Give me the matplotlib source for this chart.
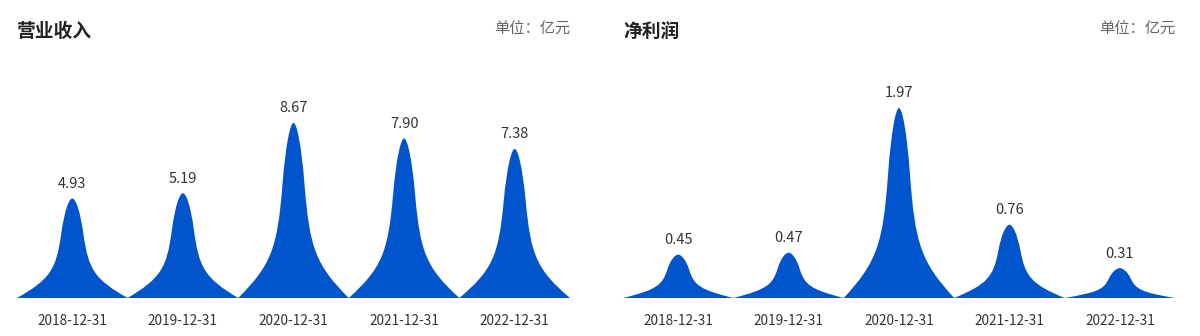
import numpy as np
import matplotlib
matplotlib.use('Agg')
import matplotlib.pyplot as plt
from matplotlib.path import Path
from matplotlib.patches import PathPatch

plt.rcParams['font.family'] = ['Noto Sans CJK SC', 'DejaVu Sans']

dates = ['2018-12-31', '2019-12-31', '2020-12-31', '2021-12-31', '2022-12-31']
revenue = [4.93, 5.19, 8.67, 7.90, 7.38]
profit = [0.45, 0.47, 1.97, 0.76, 0.31]

BLUE = '#0055cc'

# peak outline in a 10x10 box (left half, y up), mirrored for the right half
LEFT = [(0, 0), (3.0, 1.89), (3.55, 2.86), (4.0, 6.46),
        (4.3, 8.86), (4.72, 10), (5, 10)]


def peak(ax, i, v):
    left = [(i - 0.5 + x / 10, v * y / 10) for x, y in LEFT]
    right = [(i + 0.5 - x / 10, v * y / 10) for x, y in LEFT[::-1]][1:]
    verts = left + right + [(i - 0.5, 0)]
    codes = ([Path.MOVETO] + [Path.CURVE4] * 6 + [Path.CURVE4] * 6
             + [Path.CLOSEPOLY])
    ax.add_patch(PathPatch(Path(verts, codes), fc=BLUE, ec='none'))


def panel(rect, title, values, top):
    ax = fig.add_axes(rect)
    for i, v in enumerate(values):
        peak(ax, i, v)
        ax.annotate(f'{v:.2f}', (i, v), xytext=(0, 10.5), textcoords='offset points',
                    ha='center', va='center', fontsize=10.5, color='#333333')
    ax.set_xlim(-0.5, len(values) - 0.5)
    ax.set_ylim(0, top)
    ax.set_xticks(range(len(values)))
    ax.set_xticklabels(dates, fontsize=9.8, color='#333333')
    ax.tick_params(axis='x', length=0, pad=11.5)
    ax.set_yticks([])
    for s in ax.spines.values():
        s.set_visible(False)
    ax.text(0, 1 + 65 / 202, title, transform=ax.transAxes, fontsize=13.5,
            fontweight='bold', color='#222222', va='center', ha='left')
    ax.text(1, 1 + 67 / 202, '单位：亿元', transform=ax.transAxes, fontsize=11,
            color='#666666', va='center', ha='right')
    return ax


fig = plt.figure(figsize=(12, 3.36), dpi=100)
panel([17 / 1200, 38 / 336, 553 / 1200, 202 / 336], '营业收入', revenue, 10.0)
panel([623 / 1200, 38 / 336, 552 / 1200, 202 / 336], '净利润', profit, 2.095)
fig.savefig('out.png', dpi=100)
